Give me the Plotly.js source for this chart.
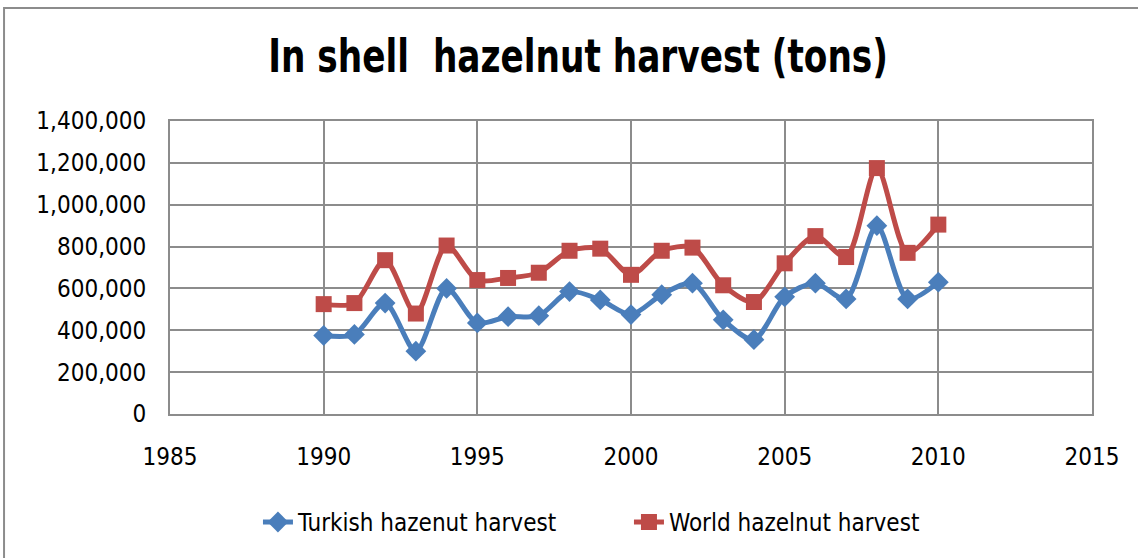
<!DOCTYPE html>
<html>
<head>
<meta charset="utf-8">
<script src="https://cdn.plot.ly/plotly-3.0.1.min.js"></script>
<style>html,body{margin:0;padding:0;background:#fff;}#chart{width:1138px;height:558px;}</style>
</head>
<body>
<div id="chart"></div>
<script>
var years = [1990,1991,1992,1993,1994,1995,1996,1997,1998,1999,2000,2001,2002,2003,2004,2005,2006,2007,2008,2009,2010];
var turkish = [375000,380000,530000,300000,600000,435000,465000,470000,585000,545000,475000,570000,625000,450000,355000,560000,625000,550000,900000,550000,630000];
var world = [525000,530000,735000,480000,805000,640000,650000,675000,780000,790000,665000,780000,795000,615000,535000,720000,850000,750000,1175000,770000,905000];
var xTicks = [1985,1990,1995,2000,2005,2010,2015];
var yTicks = [0,200000,400000,600000,800000,1000000,1200000,1400000];
var yTickText = ["0","200,000","400,000","600,000","800,000","1,000,000","1,200,000","1,400,000"];

var FONT = '"DejaVu Sans Condensed", "Liberation Sans Narrow", sans-serif';

var traces = [
  {x: years, y: turkish, name: 'Turkish hazenut harvest', type: 'scatter', mode: 'lines+markers',
   line: {color: '#4A7EBB', width: 5, shape: 'spline', smoothing: 0.8},
   marker: {symbol: 'diamond', size: 16, color: '#4A7EBB'}},
  {x: years, y: world, name: 'World hazelnut harvest', type: 'scatter', mode: 'lines+markers',
   line: {color: '#BE4B48', width: 5, shape: 'spline', smoothing: 0.8},
   marker: {symbol: 'square', size: 16, color: '#BE4B48'}}
];

var layout = {
  width: 1138, height: 558,
  margin: {l: 170, r: 46, t: 121, b: 144, autoexpand: false},
  paper_bgcolor: '#ffffff', plot_bgcolor: '#ffffff',
  title: {text: '<b>In shell  hazelnut harvest (tons)</b>', x: 0.508, xref: 'container', xanchor: 'center',
          y: 0.9, yanchor: 'middle',
          font: {family: FONT, size: 46, color: '#000'}},
  xaxis: {range: [1985, 2015], tickvals: xTicks, ticktext: xTicks.map(String), tickangle: 0,
          showgrid: true, gridcolor: '#8c8c8c', gridwidth: 2,
          showline: true, linecolor: '#8c8c8c', linewidth: 2, mirror: true,
          zeroline: false, ticks: '', ticklabelstandoff: 20, automargin: false,
          tickfont: {family: FONT, size: 24, color: '#000'}},
  yaxis: {range: [0, 1400000], tickvals: yTicks, ticktext: yTickText,
          showgrid: true, gridcolor: '#8c8c8c', gridwidth: 2,
          showline: true, linecolor: '#8c8c8c', linewidth: 2, mirror: true,
          zeroline: false, ticks: '', ticklabelstandoff: 17, automargin: false,
          tickfont: {family: FONT, size: 24, color: '#000'}},
  showlegend: true,
  legend: {orientation: 'h', x: 0.0954, xanchor: 'left', y: -0.37, yanchor: 'middle',
           entrywidth: 326, entrywidthmode: 'pixels',
           font: {family: FONT, size: 24, color: '#000'}, tracegroupgap: 0,
           bgcolor: 'rgba(0,0,0,0)'},
  shapes: [
    {type: 'rect', xref: 'paper', yref: 'paper', x0: -0.18, x1: 1.06, y0: -0.51, y1: 1.386,
     line: {color: '#8c8c8c', width: 2}, fillcolor: 'rgba(0,0,0,0)', layer: 'below'}
  ],
  hovermode: false
};

Plotly.newPlot('chart', traces, layout, {displayModeBar: false, staticPlot: true}).then(function (gd) {
  // condense the title horizontally to match the narrow bold face of the original
  var t = gd.querySelector('.gtitle');
  if (t) {
    var bb = t.getBBox();
    var target = 620;
    var sx = target / bb.width;
    var cx = bb.x + bb.width / 2;
    t.setAttribute('transform', 'translate(' + cx + ',0) scale(' + sx + ',1) translate(' + (-cx) + ',0)');
  }
});
</script>
</body>
</html>
